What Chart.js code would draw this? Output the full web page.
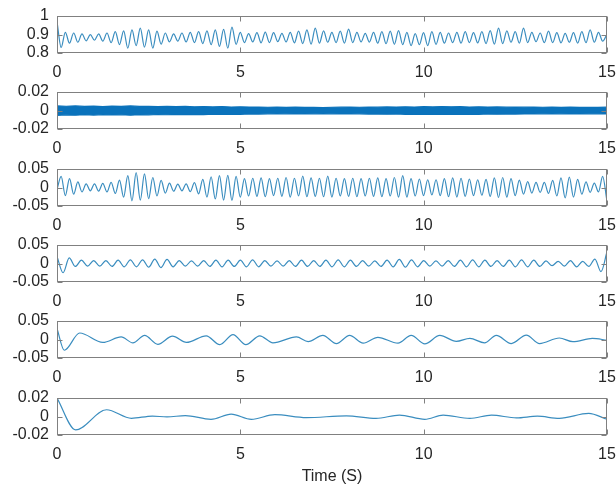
<!DOCTYPE html>
<html>
<head>
<meta charset="utf-8">
<script src="https://cdn.jsdelivr.net/npm/chart.js@4/dist/chart.umd.min.js"></script>
<style>
  html, body { margin: 0; padding: 0; background: #fff; }
  body { width: 616px; height: 488px; position: relative; overflow: hidden; }
  canvas { position: absolute; left: 0; }
</style>
</head>
<body>
<canvas id="p1" width="616" height="74" style="top:6px"></canvas>
<canvas id="p2" width="616" height="74" style="top:82px"></canvas>
<canvas id="p3" width="616" height="74" style="top:159px"></canvas>
<canvas id="p4" width="616" height="74" style="top:235px"></canvas>
<canvas id="p5" width="616" height="74" style="top:311px"></canvas>
<canvas id="p6" width="616" height="100" style="top:388px"></canvas>
<script>
// shared axis ticks
const xTicks = [0, 5, 10, 15];
const ticksRaw = [0.8, 0.9, 1];
const ticksNoise = [-0.02, 0, 0.02];
const ticksMid = [-0.05, 0, 0.05];
const ticksSlow = [-0.02, 0, 0.02];

// time steps between samples
const dtFast = 0.1136;
const dtMid = 0.1667;
const dtBand = 0.25;

// panel 1: measured signal (one extremum per step)
const rawSignal = [
    0.970, 0.830, 0.912, 0.853, 0.908, 0.858, 0.903, 0.866, 0.899, 0.869,
    0.903, 0.864, 0.908, 0.856, 0.915, 0.845, 0.920, 0.826, 0.925, 0.840,
    0.935, 0.832, 0.925, 0.826, 0.918, 0.848, 0.908, 0.860, 0.903, 0.864,
    0.908, 0.860, 0.912, 0.856, 0.915, 0.851, 0.920, 0.845, 0.925, 0.836,
    0.928, 0.826, 0.940, 0.847, 0.912, 0.856, 0.905, 0.860, 0.910, 0.855,
    0.913, 0.856, 0.910, 0.861, 0.906, 0.860, 0.912, 0.855, 0.918, 0.851,
    0.925, 0.848, 0.935, 0.853, 0.920, 0.858, 0.912, 0.856, 0.918, 0.853,
    0.929, 0.856, 0.912, 0.860, 0.906, 0.859, 0.912, 0.853, 0.916, 0.850,
    0.918, 0.847, 0.921, 0.845, 0.912, 0.840, 0.905, 0.845, 0.910, 0.840,
    0.915, 0.847, 0.912, 0.853, 0.908, 0.856, 0.912, 0.853, 0.915, 0.856,
    0.910, 0.855, 0.915, 0.851, 0.921, 0.848, 0.935, 0.851, 0.920, 0.858,
    0.915, 0.853, 0.935, 0.856, 0.912, 0.861, 0.908, 0.856, 0.918, 0.856,
    0.910, 0.855, 0.906, 0.858, 0.910, 0.853, 0.915, 0.856, 0.925, 0.858,
    0.912, 0.864, 0.900
];

// panel 2: high-frequency band, upper and lower envelope
const noiseUpper = [
    0.0050, 0.0046, 0.0049, 0.0044, 0.0048, 0.0043, 0.0047, 0.0045, 0.0049, 0.0044,
    0.0046, 0.0042, 0.0045, 0.0041, 0.0044, 0.0040, 0.0043, 0.0039, 0.0042, 0.0038,
    0.0040, 0.0037, 0.0038, 0.0035, 0.0037, 0.0034, 0.0036, 0.0033, 0.0035, 0.0032,
    0.0035, 0.0036, 0.0037, 0.0035, 0.0038, 0.0036, 0.0039, 0.0037, 0.0040, 0.0038,
    0.0041, 0.0039, 0.0042, 0.0040, 0.0041, 0.0038, 0.0040, 0.0037, 0.0039, 0.0036,
    0.0038, 0.0036, 0.0037, 0.0035, 0.0037, 0.0034, 0.0036, 0.0033, 0.0035, 0.0034,
    0.0036
];
const noiseLower = [
    -0.0052, -0.0047, -0.0050, -0.0045, -0.0049, -0.0044, -0.0048, -0.0046, -0.0050, -0.0045,
    -0.0047, -0.0043, -0.0046, -0.0042, -0.0045, -0.0041, -0.0044, -0.0040, -0.0043, -0.0039,
    -0.0041, -0.0038, -0.0039, -0.0036, -0.0038, -0.0035, -0.0037, -0.0034, -0.0036, -0.0033,
    -0.0036, -0.0037, -0.0038, -0.0036, -0.0039, -0.0037, -0.0040, -0.0038, -0.0041, -0.0039,
    -0.0042, -0.0040, -0.0043, -0.0041, -0.0042, -0.0039, -0.0041, -0.0038, -0.0040, -0.0037,
    -0.0039, -0.0037, -0.0038, -0.0036, -0.0038, -0.0035, -0.0037, -0.0034, -0.0036, -0.0035,
    -0.0037
];

// panel 3
const imf2 = [
    -0.005, 0.030, -0.022, 0.024, -0.018, 0.015, -0.012, 0.010, -0.009, 0.010,
    -0.010, 0.011, -0.012, 0.014, -0.016, 0.020, -0.026, 0.032, -0.036, 0.040,
    -0.034, 0.037, -0.030, 0.027, -0.023, 0.019, -0.015, 0.012, -0.010, 0.009,
    -0.009, 0.010, -0.011, 0.013, -0.017, 0.022, -0.026, 0.029, -0.031, 0.032,
    -0.034, 0.033, -0.035, 0.030, -0.026, 0.024, -0.023, 0.025, -0.024, 0.026,
    -0.025, 0.024, -0.022, 0.025, -0.024, 0.027, -0.026, 0.025, -0.023, 0.031,
    -0.025, 0.026, -0.024, 0.025, -0.025, 0.031, -0.026, 0.025, -0.023, 0.024,
    -0.024, 0.025, -0.025, 0.024, -0.023, 0.025, -0.024, 0.026, -0.025, 0.024,
    -0.023, 0.027, -0.026, 0.032, -0.026, 0.024, -0.023, 0.023, -0.022, 0.021,
    -0.020, 0.021, -0.022, 0.024, -0.025, 0.026, -0.026, 0.025, -0.024, 0.023,
    -0.022, 0.021, -0.021, 0.022, -0.024, 0.026, -0.027, 0.027, -0.026, 0.024,
    -0.022, 0.020, -0.018, 0.016, -0.015, 0.014, -0.013, 0.014, -0.016, 0.019,
    -0.023, 0.026, -0.028, 0.028, -0.026, 0.022, -0.018, 0.015, -0.013, 0.012,
    -0.012, 0.030, -0.034
];

// panel 4
const imf3 = [
    0.019, -0.025, 0.015, -0.008, 0.009, -0.007, 0.008, -0.007, 0.008, -0.008,
    0.009, -0.009, 0.010, -0.009, 0.010, -0.010, 0.012, -0.011, 0.011, -0.009,
    0.008, -0.007, 0.007, -0.007, 0.008, -0.008, 0.009, -0.009, 0.009, -0.008,
    0.009, -0.009, 0.010, -0.009, 0.008, -0.007, 0.007, -0.007, 0.008, -0.008,
    0.009, -0.008, 0.008, -0.008, 0.009, -0.009, 0.010, -0.009, 0.009, -0.008,
    0.008, -0.007, 0.007, -0.008, 0.009, -0.009, 0.011, -0.010, 0.010, -0.009,
    0.008, -0.007, 0.007, -0.007, 0.008, -0.008, 0.009, -0.009, 0.010, -0.009,
    0.009, -0.008, 0.008, -0.008, 0.009, -0.009, 0.010, -0.009, 0.009, -0.008,
    0.007, -0.006, 0.006, -0.007, 0.008, -0.009, 0.006, -0.008, 0.012, -0.022,
    0.033
];

// panel 5: extrema times and values
const imf4Time = [0, 0.2, 0.62, 1.25, 1.75, 2.07, 2.39, 2.75, 3.15, 3.53,
    4.07, 4.44, 4.8, 5.15, 5.53, 5.89, 6.53, 6.85, 7.25, 7.62,
    7.98, 8.35, 8.75, 9.3, 9.66, 10.03, 10.44, 10.89, 11.26, 11.66,
    11.98, 12.39, 12.8, 13.16, 13.7, 14.07, 14.6, 15];
const imf4 = [0.030, -0.029, 0.0176, -0.008, 0.007, -0.009, 0.011, -0.013, 0.009, -0.008,
    0.010, -0.014, 0.013, -0.014, 0.010, -0.009, 0.007, -0.006, 0.011, -0.011,
    0.011, -0.010, 0.006, -0.010, 0.011, -0.012, 0.011, -0.005, 0.003, -0.009,
    0.011, -0.011, 0.012, -0.011, 0.004, -0.006, 0.003, -0.002];

// panel 6
const imf5Time = [0, 0.51, 1.35, 2.03, 2.6, 3.0, 3.5, 4.2, 4.75, 5.3,
    5.94, 6.8, 7.89, 8.7, 9.34, 10.03, 10.53, 11.26, 11.85, 12.53,
    13.1, 13.7, 14.5, 15];
const imf5 = [0.020, -0.0145, 0.0073, -0.002, 0.0005, -0.0005, 0.001, -0.003, 0.0025, -0.003,
    0.002, -0.0012, 0.0007, -0.002, 0.0015, -0.003, 0.0015, -0.002, 0.0015, -0.0015,
    0.0003, -0.002, 0.0033, -0.003];

const LINE = '#3a8dbf';
const BAND = '#0a72bb';
const AXIS = '#808080';
const TEXT = '#262626';
const FONT = { family: '"Liberation Sans", Arial, sans-serif', size: 16 };
const PAD_TOP = 10;
const PLOT_H = 37;
const Y_W = 57;
const PAD_RIGHT = 9;
const TICK_LEN = 5;

function stepped(values, dt) {
    return values.map(function (v, i) { return { x: i * dt, y: v }; });
}
function paired(times, values) {
    return times.map(function (t, i) { return { x: t, y: values[i] }; });
}

// matlab-like box with inward ticks
const boxPlugin = {
    id: 'box',
    afterDatasetsDraw: function (chart) {
        const ctx = chart.ctx;
        const a = chart.chartArea;
        const L = Math.round(a.left) + 0.5, R = Math.round(a.right) - 0.5;
        const T = Math.round(a.top) + 0.5, B = Math.round(a.bottom) - 0.5;
        ctx.save();
        ctx.strokeStyle = AXIS;
        ctx.lineWidth = 1;
        ctx.strokeRect(L, T, R - L, B - T);
        ctx.beginPath();
        xTicks.forEach(function (v) {
            const px = Math.round(chart.scales.x.getPixelForValue(v)) + 0.5;
            ctx.moveTo(px, T); ctx.lineTo(px, T + TICK_LEN);
            ctx.moveTo(px, B); ctx.lineTo(px, B - TICK_LEN);
        });
        chart.scales.y.ticks.forEach(function (t) {
            const py = Math.round(chart.scales.y.getPixelForValue(t.value)) + 0.5;
            ctx.moveTo(L, py); ctx.lineTo(L + TICK_LEN, py);
            ctx.moveTo(R, py); ctx.lineTo(R - TICK_LEN, py);
        });
        ctx.stroke();
        ctx.restore();
    }
};

function makePanel(id, datasets, yTicks, title) {
    const canvas = document.getElementById(id);
    const xH = canvas.height - PAD_TOP - PLOT_H;
    return new Chart(canvas, {
        type: 'line',
        data: { datasets: datasets },
        options: {
            responsive: false,
            animation: false,
            devicePixelRatio: 1,
            layout: { padding: { top: PAD_TOP, right: PAD_RIGHT, bottom: 0, left: 0 } },
            plugins: { legend: { display: false }, tooltip: { enabled: false } },
            elements: {
                point: { radius: 0 },
                line: { borderWidth: 1.2, borderColor: LINE, cubicInterpolationMode: 'monotone' }
            },
            scales: {
                x: {
                    type: 'linear', min: 0, max: 15,
                    grid: { display: false, drawTicks: false }, border: { display: false },
                    afterBuildTicks: function (s) { s.ticks = xTicks.map(function (v) { return { value: v }; }); },
                    ticks: { font: FONT, color: TEXT, padding: 10, maxRotation: 0, autoSkip: false,
                             callback: function (v) { return String(v); } },
                    title: title ? { display: true, text: title, font: FONT, color: TEXT, padding: { top: 0, bottom: 2 } } : { display: false },
                    afterFit: function (s) { s.height = xH; s.paddingLeft = 0; s.paddingRight = 0; }
                },
                y: {
                    type: 'linear', min: yTicks[0], max: yTicks[yTicks.length - 1],
                    grid: { display: false, drawTicks: false }, border: { display: false },
                    afterBuildTicks: function (s) { s.ticks = yTicks.map(function (v) { return { value: v }; }); },
                    ticks: { font: FONT, color: TEXT, padding: 8, autoSkip: false,
                             callback: function (v) { return String(v); } },
                    afterFit: function (s) { s.width = Y_W; s.paddingTop = 0; s.paddingBottom = 0; }
                }
            }
        },
        plugins: [boxPlugin]
    });
}

makePanel('p1', [{ data: stepped(rawSignal, dtFast) }], ticksRaw);
makePanel('p2', [
    { data: stepped(noiseUpper, dtBand), borderColor: BAND, backgroundColor: BAND, fill: '+1',
      cubicInterpolationMode: 'default', tension: 0 },
    { data: stepped(noiseLower, dtBand), borderColor: BAND, backgroundColor: BAND, fill: false,
      cubicInterpolationMode: 'default', tension: 0 }
], ticksNoise);
makePanel('p3', [{ data: stepped(imf2, dtFast) }], ticksMid);
makePanel('p4', [{ data: stepped(imf3, dtMid) }], ticksMid);
makePanel('p5', [{ data: paired(imf4Time, imf4) }], ticksMid);
makePanel('p6', [{ data: paired(imf5Time, imf5) }], ticksSlow, 'Time (S)');
</script>
</body>
</html>
